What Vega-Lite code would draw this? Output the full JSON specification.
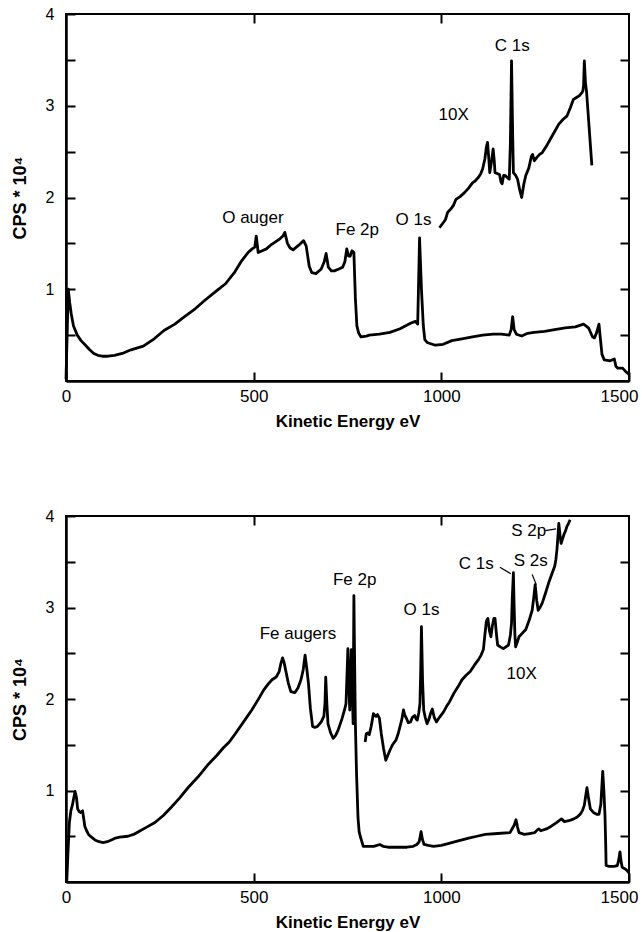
{
  "$schema": "https://vega.github.io/schema/vega-lite/v6.json",
  "autosize": {"type": "pad"},
  "padding": {"left": 10, "top": 5, "right": 0, "bottom": 0},
  "background": "white",
  "spacing": 135,
  "bounds": "flush",
  "datasets": {
    "top_main": [
      {"E":0,"cps":0.02},{"E":3,"cps":0.5},{"E":6,"cps":1.0},{"E":10,"cps":0.85},{"E":14,"cps":0.73},{"E":20,"cps":0.6},{"E":30,"cps":0.5},{"E":40,"cps":0.44},{"E":52,"cps":0.39},{"E":63,"cps":0.34},{"E":74,"cps":0.3},{"E":85,"cps":0.28},{"E":96,"cps":0.27},{"E":112,"cps":0.27},{"E":129,"cps":0.28},{"E":150,"cps":0.3},{"E":173,"cps":0.34},{"E":206,"cps":0.38},{"E":235,"cps":0.46},{"E":261,"cps":0.55},{"E":290,"cps":0.62},{"E":315,"cps":0.7},{"E":345,"cps":0.79},{"E":370,"cps":0.88},{"E":400,"cps":0.98},{"E":425,"cps":1.06},{"E":450,"cps":1.19},{"E":468,"cps":1.31},{"E":485,"cps":1.4},{"E":496,"cps":1.44},{"E":503,"cps":1.46},{"E":507,"cps":1.58},{"E":512,"cps":1.4},{"E":523,"cps":1.42},{"E":534,"cps":1.44},{"E":545,"cps":1.48},{"E":556,"cps":1.51},{"E":570,"cps":1.55},{"E":578,"cps":1.58},{"E":583,"cps":1.62},{"E":590,"cps":1.5},{"E":597,"cps":1.45},{"E":605,"cps":1.43},{"E":620,"cps":1.48},{"E":633,"cps":1.53},{"E":640,"cps":1.47},{"E":648,"cps":1.25},{"E":655,"cps":1.18},{"E":666,"cps":1.17},{"E":680,"cps":1.22},{"E":688,"cps":1.3},{"E":693,"cps":1.39},{"E":699,"cps":1.24},{"E":707,"cps":1.2},{"E":715,"cps":1.2},{"E":727,"cps":1.22},{"E":737,"cps":1.24},{"E":743,"cps":1.3},{"E":748,"cps":1.44},{"E":753,"cps":1.36},{"E":757,"cps":1.36},{"E":762,"cps":1.42},{"E":767,"cps":1.4},{"E":771,"cps":0.9},{"E":775,"cps":0.6},{"E":780,"cps":0.52},{"E":786,"cps":0.48},{"E":800,"cps":0.49},{"E":808,"cps":0.5},{"E":835,"cps":0.51},{"E":863,"cps":0.53},{"E":890,"cps":0.57},{"E":918,"cps":0.63},{"E":931,"cps":0.65},{"E":937,"cps":0.62},{"E":942,"cps":1.56},{"E":947,"cps":1.0},{"E":952,"cps":0.6},{"E":956,"cps":0.45},{"E":962,"cps":0.42},{"E":984,"cps":0.39},{"E":1005,"cps":0.4},{"E":1028,"cps":0.44},{"E":1055,"cps":0.46},{"E":1083,"cps":0.48},{"E":1110,"cps":0.5},{"E":1138,"cps":0.51},{"E":1160,"cps":0.51},{"E":1181,"cps":0.5},{"E":1186,"cps":0.56},{"E":1190,"cps":0.7},{"E":1194,"cps":0.56},{"E":1200,"cps":0.51},{"E":1214,"cps":0.49},{"E":1230,"cps":0.52},{"E":1247,"cps":0.53},{"E":1275,"cps":0.54},{"E":1302,"cps":0.56},{"E":1330,"cps":0.58},{"E":1357,"cps":0.59},{"E":1379,"cps":0.62},{"E":1392,"cps":0.58},{"E":1403,"cps":0.48},{"E":1408,"cps":0.47},{"E":1414,"cps":0.53},{"E":1420,"cps":0.62},{"E":1424,"cps":0.45},{"E":1428,"cps":0.29},{"E":1434,"cps":0.23},{"E":1450,"cps":0.22},{"E":1461,"cps":0.24},{"E":1465,"cps":0.16},{"E":1470,"cps":0.14},{"E":1483,"cps":0.14},{"E":1492,"cps":0.1},{"E":1500,"cps":0.07}
    ],
    "top_10x": [
      {"E":995,"cps":1.67},{"E":1006,"cps":1.73},{"E":1011,"cps":1.76},{"E":1017,"cps":1.84},{"E":1022,"cps":1.86},{"E":1028,"cps":1.89},{"E":1033,"cps":1.92},{"E":1039,"cps":1.98},{"E":1050,"cps":2.01},{"E":1061,"cps":2.05},{"E":1072,"cps":2.1},{"E":1083,"cps":2.16},{"E":1090,"cps":2.18},{"E":1099,"cps":2.22},{"E":1105,"cps":2.26},{"E":1110,"cps":2.31},{"E":1116,"cps":2.42},{"E":1120,"cps":2.55},{"E":1123,"cps":2.6},{"E":1126,"cps":2.45},{"E":1129,"cps":2.27},{"E":1134,"cps":2.4},{"E":1138,"cps":2.53},{"E":1141,"cps":2.4},{"E":1143,"cps":2.27},{"E":1150,"cps":2.26},{"E":1155,"cps":2.25},{"E":1159,"cps":2.17},{"E":1162,"cps":2.15},{"E":1166,"cps":2.24},{"E":1170,"cps":2.24},{"E":1175,"cps":2.22},{"E":1181,"cps":2.2},{"E":1184,"cps":2.6},{"E":1187,"cps":3.49},{"E":1190,"cps":2.7},{"E":1192,"cps":2.27},{"E":1198,"cps":2.24},{"E":1203,"cps":2.2},{"E":1209,"cps":2.08},{"E":1214,"cps":2.0},{"E":1220,"cps":2.15},{"E":1225,"cps":2.24},{"E":1233,"cps":2.32},{"E":1240,"cps":2.45},{"E":1243,"cps":2.47},{"E":1248,"cps":2.4},{"E":1255,"cps":2.44},{"E":1262,"cps":2.47},{"E":1269,"cps":2.49},{"E":1280,"cps":2.56},{"E":1291,"cps":2.64},{"E":1302,"cps":2.72},{"E":1313,"cps":2.8},{"E":1324,"cps":2.85},{"E":1335,"cps":2.89},{"E":1344,"cps":2.98},{"E":1352,"cps":3.07},{"E":1360,"cps":3.09},{"E":1368,"cps":3.11},{"E":1374,"cps":3.14},{"E":1377,"cps":3.16},{"E":1379,"cps":3.22},{"E":1381,"cps":3.49},{"E":1384,"cps":3.25},{"E":1387,"cps":3.15},{"E":1394,"cps":2.75},{"E":1401,"cps":2.35}
    ],
    "top_labels": [
      {"E":1189,"cps":3.65,"label":"C 1s"},
      {"E":1033,"cps":2.9,"label":"10X"},
      {"E":498,"cps":1.78,"label":"O auger"},
      {"E":776,"cps":1.65,"label":"Fe 2p"},
      {"E":926,"cps":1.75,"label":"O 1s"}
    ],
    "bottom_main": [
      {"E":2,"cps":0.0},{"E":5,"cps":0.3},{"E":9,"cps":0.65},{"E":13,"cps":0.78},{"E":17,"cps":0.84},{"E":24,"cps":0.99},{"E":28,"cps":0.92},{"E":31,"cps":0.8},{"E":35,"cps":0.77},{"E":39,"cps":0.76},{"E":44,"cps":0.78},{"E":47,"cps":0.7},{"E":50,"cps":0.61},{"E":55,"cps":0.56},{"E":60,"cps":0.52},{"E":68,"cps":0.49},{"E":77,"cps":0.46},{"E":88,"cps":0.44},{"E":99,"cps":0.43},{"E":110,"cps":0.44},{"E":121,"cps":0.46},{"E":132,"cps":0.48},{"E":143,"cps":0.49},{"E":165,"cps":0.5},{"E":180,"cps":0.52},{"E":193,"cps":0.55},{"E":215,"cps":0.6},{"E":237,"cps":0.65},{"E":260,"cps":0.73},{"E":281,"cps":0.82},{"E":303,"cps":0.92},{"E":325,"cps":1.03},{"E":352,"cps":1.15},{"E":380,"cps":1.29},{"E":401,"cps":1.38},{"E":420,"cps":1.47},{"E":435,"cps":1.53},{"E":451,"cps":1.62},{"E":473,"cps":1.75},{"E":495,"cps":1.88},{"E":510,"cps":1.98},{"E":527,"cps":2.1},{"E":540,"cps":2.17},{"E":549,"cps":2.21},{"E":560,"cps":2.24},{"E":568,"cps":2.3},{"E":572,"cps":2.38},{"E":577,"cps":2.45},{"E":581,"cps":2.4},{"E":585,"cps":2.32},{"E":592,"cps":2.18},{"E":599,"cps":2.08},{"E":610,"cps":2.07},{"E":618,"cps":2.12},{"E":626,"cps":2.21},{"E":632,"cps":2.32},{"E":637,"cps":2.48},{"E":641,"cps":2.35},{"E":646,"cps":2.17},{"E":651,"cps":1.9},{"E":657,"cps":1.7},{"E":663,"cps":1.69},{"E":670,"cps":1.7},{"E":680,"cps":1.75},{"E":687,"cps":1.81},{"E":690,"cps":1.95},{"E":692,"cps":2.24},{"E":695,"cps":1.95},{"E":698,"cps":1.73},{"E":705,"cps":1.63},{"E":712,"cps":1.57},{"E":718,"cps":1.6},{"E":725,"cps":1.66},{"E":735,"cps":1.78},{"E":742,"cps":1.88},{"E":746,"cps":1.95},{"E":749,"cps":2.3},{"E":751,"cps":2.55},{"E":754,"cps":2.1},{"E":756,"cps":1.88},{"E":758,"cps":2.2},{"E":760,"cps":2.54},{"E":762,"cps":2.2},{"E":765,"cps":1.73},{"E":767,"cps":3.13},{"E":769,"cps":2.4},{"E":771,"cps":1.73},{"E":774,"cps":1.2},{"E":778,"cps":0.7},{"E":781,"cps":0.55},{"E":784,"cps":0.5},{"E":792,"cps":0.39},{"E":805,"cps":0.39},{"E":820,"cps":0.39},{"E":836,"cps":0.41},{"E":845,"cps":0.39},{"E":858,"cps":0.38},{"E":883,"cps":0.38},{"E":908,"cps":0.38},{"E":925,"cps":0.39},{"E":935,"cps":0.41},{"E":941,"cps":0.44},{"E":946,"cps":0.55},{"E":950,"cps":0.46},{"E":954,"cps":0.41},{"E":965,"cps":0.4},{"E":979,"cps":0.39},{"E":1000,"cps":0.4},{"E":1018,"cps":0.42},{"E":1045,"cps":0.45},{"E":1073,"cps":0.48},{"E":1095,"cps":0.5},{"E":1117,"cps":0.52},{"E":1150,"cps":0.53},{"E":1183,"cps":0.54},{"E":1194,"cps":0.62},{"E":1199,"cps":0.68},{"E":1203,"cps":0.6},{"E":1207,"cps":0.54},{"E":1221,"cps":0.52},{"E":1235,"cps":0.53},{"E":1249,"cps":0.54},{"E":1256,"cps":0.57},{"E":1260,"cps":0.58},{"E":1265,"cps":0.56},{"E":1280,"cps":0.58},{"E":1293,"cps":0.61},{"E":1307,"cps":0.65},{"E":1320,"cps":0.69},{"E":1328,"cps":0.66},{"E":1340,"cps":0.67},{"E":1353,"cps":0.69},{"E":1362,"cps":0.71},{"E":1370,"cps":0.74},{"E":1376,"cps":0.78},{"E":1381,"cps":0.84},{"E":1385,"cps":0.95},{"E":1388,"cps":1.03},{"E":1392,"cps":0.92},{"E":1397,"cps":0.8},{"E":1405,"cps":0.76},{"E":1414,"cps":0.74},{"E":1420,"cps":0.74},{"E":1425,"cps":0.85},{"E":1430,"cps":1.21},{"E":1433,"cps":1.0},{"E":1436,"cps":0.73},{"E":1438,"cps":0.4},{"E":1439,"cps":0.18},{"E":1447,"cps":0.17},{"E":1460,"cps":0.17},{"E":1469,"cps":0.18},{"E":1473,"cps":0.25},{"E":1476,"cps":0.33},{"E":1479,"cps":0.22},{"E":1482,"cps":0.16},{"E":1491,"cps":0.14},{"E":1496,"cps":0.12},{"E":1500,"cps":0.1}
    ],
    "bottom_10x": [
      {"E":797,"cps":1.53},{"E":800,"cps":1.62},{"E":804,"cps":1.63},{"E":808,"cps":1.61},{"E":813,"cps":1.7},{"E":819,"cps":1.84},{"E":823,"cps":1.82},{"E":826,"cps":1.81},{"E":830,"cps":1.83},{"E":835,"cps":1.79},{"E":840,"cps":1.62},{"E":846,"cps":1.46},{"E":852,"cps":1.33},{"E":857,"cps":1.38},{"E":863,"cps":1.44},{"E":870,"cps":1.5},{"E":879,"cps":1.55},{"E":885,"cps":1.62},{"E":890,"cps":1.7},{"E":895,"cps":1.78},{"E":899,"cps":1.88},{"E":903,"cps":1.82},{"E":907,"cps":1.79},{"E":912,"cps":1.74},{"E":918,"cps":1.75},{"E":923,"cps":1.8},{"E":929,"cps":1.82},{"E":933,"cps":1.78},{"E":936,"cps":1.77},{"E":940,"cps":1.85},{"E":943,"cps":1.95},{"E":945,"cps":2.3},{"E":947,"cps":2.79},{"E":950,"cps":2.2},{"E":953,"cps":1.88},{"E":957,"cps":1.8},{"E":962,"cps":1.73},{"E":967,"cps":1.78},{"E":972,"cps":1.85},{"E":976,"cps":1.89},{"E":981,"cps":1.8},{"E":987,"cps":1.75},{"E":995,"cps":1.8},{"E":1006,"cps":1.86},{"E":1014,"cps":1.92},{"E":1022,"cps":1.97},{"E":1033,"cps":2.06},{"E":1044,"cps":2.13},{"E":1055,"cps":2.21},{"E":1066,"cps":2.26},{"E":1077,"cps":2.3},{"E":1088,"cps":2.37},{"E":1099,"cps":2.43},{"E":1106,"cps":2.48},{"E":1112,"cps":2.54},{"E":1116,"cps":2.7},{"E":1120,"cps":2.85},{"E":1124,"cps":2.88},{"E":1128,"cps":2.75},{"E":1132,"cps":2.68},{"E":1136,"cps":2.8},{"E":1140,"cps":2.88},{"E":1143,"cps":2.88},{"E":1147,"cps":2.7},{"E":1150,"cps":2.59},{"E":1157,"cps":2.57},{"E":1165,"cps":2.55},{"E":1172,"cps":2.57},{"E":1179,"cps":2.59},{"E":1184,"cps":2.7},{"E":1187,"cps":2.83},{"E":1189,"cps":3.1},{"E":1192,"cps":3.38},{"E":1194,"cps":3.0},{"E":1196,"cps":2.7},{"E":1198,"cps":2.57},{"E":1203,"cps":2.63},{"E":1207,"cps":2.68},{"E":1216,"cps":2.72},{"E":1225,"cps":2.76},{"E":1234,"cps":2.86},{"E":1242,"cps":2.97},{"E":1246,"cps":3.1},{"E":1250,"cps":3.25},{"E":1254,"cps":3.08},{"E":1258,"cps":2.97},{"E":1263,"cps":3.0},{"E":1269,"cps":3.05},{"E":1277,"cps":3.15},{"E":1286,"cps":3.27},{"E":1294,"cps":3.36},{"E":1302,"cps":3.45},{"E":1305,"cps":3.52},{"E":1308,"cps":3.63},{"E":1311,"cps":3.8},{"E":1313,"cps":3.92},{"E":1316,"cps":3.8},{"E":1319,"cps":3.7},{"E":1323,"cps":3.75},{"E":1327,"cps":3.8},{"E":1331,"cps":3.84},{"E":1335,"cps":3.89},{"E":1339,"cps":3.92},{"E":1343,"cps":3.96}
    ],
    "bottom_labels": [
      {"E":769,"cps":3.3,"label":"Fe 2p"},
      {"E":947,"cps":2.97,"label":"O 1s"},
      {"E":618,"cps":2.71,"label":"Fe augers"},
      {"E":1214,"cps":2.27,"label":"10X"},
      {"E":1093,"cps":3.48,"label":"C 1s"},
      {"E":1238,"cps":3.51,"label":"S 2s"},
      {"E":1233,"cps":3.84,"label":"S 2p"}
    ],
    "bottom_leaders": [
      {"E":1156,"cps":3.44,"E2":1185,"cps2":3.37},
      {"E":1242,"cps":3.36,"E2":1253,"cps2":3.25},
      {"E":1277,"cps":3.84,"E2":1306,"cps2":3.86}
    ]
  },
  "vconcat": [
    {
      "width": 563,
      "height": 367,
      "resolve": {"axis": {"x": "independent", "y": "independent"}},
      "layer": [
        {
          "data": {"name": "top_main"},
          "mark": {"type": "line", "color": "black", "strokeWidth": 2.8, "strokeJoin": "round"},
          "encoding": {
            "x": {"field": "E", "type": "quantitative", "scale": {"domain": [0, 1500], "nice": false, "zero": false},
              "axis": {"orient": "bottom", "values": [0, 500, 1000, 1500], "format": "d", "tickSize": -9, "tickWidth": 2, "tickColor": "black", "domainColor": "black", "domainWidth": 2.5, "labelPadding": 16, "labelFont": "Liberation Sans", "labelFontSize": 17, "labelColor": "black", "labelFlush": false, "labelOverlap": false, "labelOffset": {"condition": {"test": "datum.value === 1500", "value": -10}, "value": 0}, "title": "Kinetic Energy eV", "titleFont": "Liberation Sans", "titleFontSize": 17, "titleFontWeight": "bold", "titleColor": "black", "titlePadding": 9, "grid": false}},
            "y": {"field": "cps", "type": "quantitative", "scale": {"domain": [0, 4], "nice": false},
              "axis": {"orient": "left", "values": [0.5, 1, 1.5, 2, 2.5, 3, 3.5, 4], "labelExpr": "datum.value % 1 === 0 ? '' + datum.value : ''", "tickSize": -9, "tickWidth": 2, "tickColor": "black", "domainColor": "black", "domainWidth": 2.5, "labelPadding": 21, "labelFont": "Liberation Sans", "labelFontSize": 16, "labelColor": "black", "labelFlush": false, "labelOverlap": false, "title": "CPS * 10⁴", "titleFont": "Liberation Sans", "titleFontSize": 18, "titleFontWeight": "bold", "titleColor": "black", "titlePadding": 16, "grid": false}}
          }
        },
        {
          "data": {"name": "top_10x"},
          "mark": {"type": "line", "color": "black", "strokeWidth": 2.8, "strokeJoin": "round"},
          "encoding": {
            "x": {"field": "E", "type": "quantitative", "scale": {"domain": [0, 1500], "nice": false, "zero": false},
              "axis": {"orient": "top", "values": [500, 1000], "tickSize": -9, "tickWidth": 2, "tickColor": "black", "labels": false, "domain": false, "title": null, "grid": false}},
            "y": {"field": "cps", "type": "quantitative", "scale": {"domain": [0, 4], "nice": false},
              "axis": {"orient": "right", "values": [0.5, 1, 1.5, 2, 2.5, 3, 3.5], "tickSize": -9, "tickWidth": 2, "tickColor": "black", "labels": false, "domain": false, "title": null, "grid": false}}
          }
        },
        {
          "data": {"name": "top_labels"},
          "mark": {"type": "text", "font": "Liberation Sans", "fontSize": 17, "color": "black"},
          "encoding": {
            "x": {"field": "E", "type": "quantitative", "scale": {"domain": [0, 1500], "nice": false, "zero": false}, "axis": null},
            "y": {"field": "cps", "type": "quantitative", "scale": {"domain": [0, 4], "nice": false}, "axis": null},
            "text": {"field": "label"}
          }
        }
      ]
    },
    {
      "width": 563,
      "height": 366,
      "resolve": {"axis": {"x": "independent", "y": "independent"}},
      "layer": [
        {
          "data": {"name": "bottom_main"},
          "mark": {"type": "line", "color": "black", "strokeWidth": 2.8, "strokeJoin": "round"},
          "encoding": {
            "x": {"field": "E", "type": "quantitative", "scale": {"domain": [0, 1500], "nice": false, "zero": false},
              "axis": {"orient": "bottom", "values": [0, 500, 1000, 1500], "format": "d", "tickSize": -9, "tickWidth": 2, "tickColor": "black", "domainColor": "black", "domainWidth": 2.5, "labelPadding": 16, "labelFont": "Liberation Sans", "labelFontSize": 17, "labelColor": "black", "labelFlush": false, "labelOverlap": false, "labelOffset": {"condition": {"test": "datum.value === 1500", "value": -10}, "value": 0}, "title": "Kinetic Energy eV", "titleFont": "Liberation Sans", "titleFontSize": 17, "titleFontWeight": "bold", "titleColor": "black", "titlePadding": 9, "grid": false}},
            "y": {"field": "cps", "type": "quantitative", "scale": {"domain": [0, 4], "nice": false},
              "axis": {"orient": "left", "values": [0.5, 1, 1.5, 2, 2.5, 3, 3.5, 4], "labelExpr": "datum.value % 1 === 0 ? '' + datum.value : ''", "tickSize": -9, "tickWidth": 2, "tickColor": "black", "domainColor": "black", "domainWidth": 2.5, "labelPadding": 21, "labelFont": "Liberation Sans", "labelFontSize": 16, "labelColor": "black", "labelFlush": false, "labelOverlap": false, "title": "CPS * 10⁴", "titleFont": "Liberation Sans", "titleFontSize": 18, "titleFontWeight": "bold", "titleColor": "black", "titlePadding": 16, "grid": false}}
          }
        },
        {
          "data": {"name": "bottom_10x"},
          "mark": {"type": "line", "color": "black", "strokeWidth": 2.8, "strokeJoin": "round"},
          "encoding": {
            "x": {"field": "E", "type": "quantitative", "scale": {"domain": [0, 1500], "nice": false, "zero": false},
              "axis": {"orient": "top", "values": [500, 1000], "tickSize": -9, "tickWidth": 2, "tickColor": "black", "labels": false, "domain": false, "title": null, "grid": false}},
            "y": {"field": "cps", "type": "quantitative", "scale": {"domain": [0, 4], "nice": false},
              "axis": {"orient": "right", "values": [0.5, 1, 1.5, 2, 2.5, 3, 3.5], "tickSize": -9, "tickWidth": 2, "tickColor": "black", "labels": false, "domain": false, "title": null, "grid": false}}
          }
        },
        {
          "data": {"name": "bottom_leaders"},
          "mark": {"type": "rule", "color": "black", "strokeWidth": 1.2},
          "encoding": {
            "x": {"field": "E", "type": "quantitative", "scale": {"domain": [0, 1500], "nice": false, "zero": false}, "axis": null},
            "y": {"field": "cps", "type": "quantitative", "scale": {"domain": [0, 4], "nice": false}, "axis": null},
            "x2": {"field": "E2"},
            "y2": {"field": "cps2"}
          }
        },
        {
          "data": {"name": "bottom_labels"},
          "mark": {"type": "text", "font": "Liberation Sans", "fontSize": 17, "color": "black"},
          "encoding": {
            "x": {"field": "E", "type": "quantitative", "scale": {"domain": [0, 1500], "nice": false, "zero": false}, "axis": null},
            "y": {"field": "cps", "type": "quantitative", "scale": {"domain": [0, 4], "nice": false}, "axis": null},
            "text": {"field": "label"}
          }
        }
      ]
    }
  ],
  "config": {
    "view": {"stroke": "black", "strokeWidth": 2},
    "font": "Liberation Sans"
  }
}
